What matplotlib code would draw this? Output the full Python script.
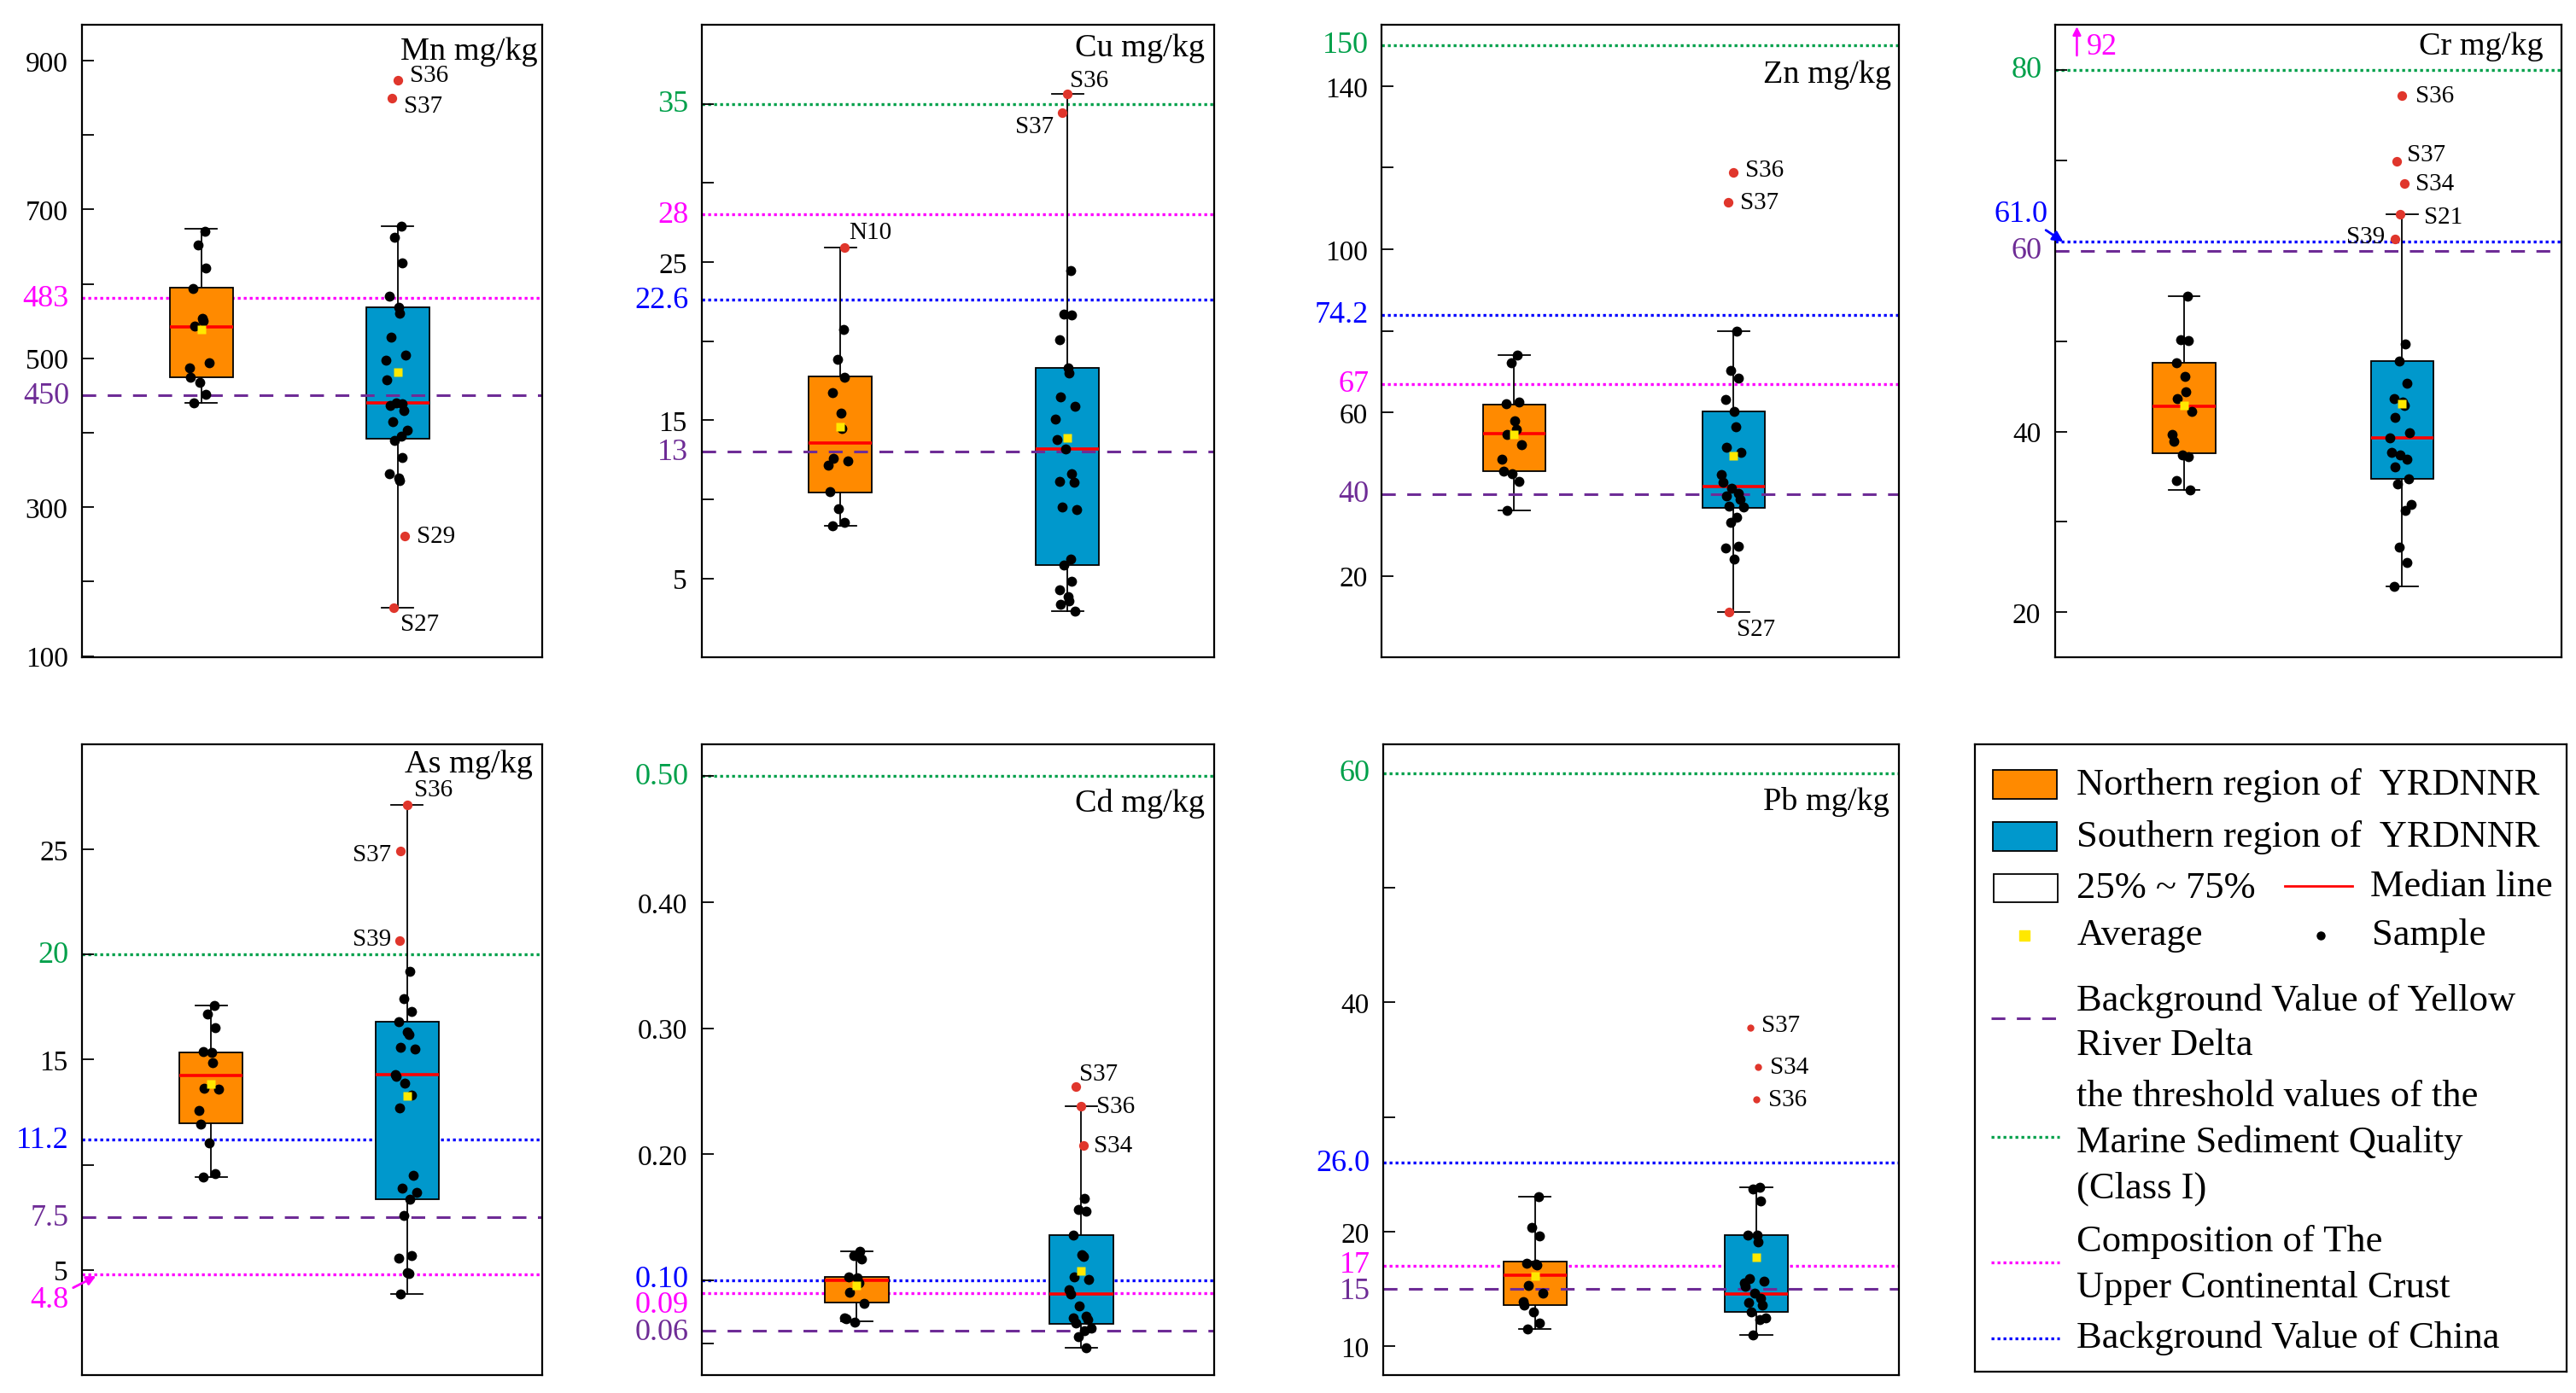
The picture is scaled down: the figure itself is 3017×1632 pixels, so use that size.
import matplotlib
matplotlib.use('Agg')
import matplotlib.pyplot as plt
import matplotlib.transforms as mtransforms
import numpy as np
from matplotlib.patches import Rectangle

plt.rcParams['font.family'] = ['Liberation Serif', 'DejaVu Serif']

ORANGE = '#FF8A00'
SBLUE = '#0098CC'
RED_PT = '#E0362C'
MEAN_C = '#FFE800'

# reference line kinds: yrd = Yellow River Delta background, msq = marine sediment class I,
# ucc = upper continental crust, chn = background value of China
REF_STYLE = {
    'yrd': dict(color='#6E2C96', ls=(0, (5.3, 4.4)), lw=2.2, z=2.5),
    'msq': dict(color='#00A04A', ls=(0, (1, 1.1)), lw=2.4, z=1),
    'ucc': dict(color='#FF00FF', ls=(0, (1, 1.1)), lw=2.4, z=1),
    'chn': dict(color='#0000FF', ls=(0, (1, 1.1)), lw=2.4, z=1),
}

# ---------------- data (mg/kg) ----------------
# box stats: whisker low, Q1, median, Q3, whisker high, mean
mn_box_n = [440, 475, 542, 595, 674, 539]
mn_box_s = [165, 392, 440, 569, 677, 481]
mn_pts_n = [671, 652, 621, 594, 553, 550, 543, 494, 487, 475, 468, 452, 440]
mn_pts_s = [677, 662, 628, 583, 568, 561, 528, 504, 497, 471, 440, 439, 437, 430,
            415, 403, 395, 390, 367, 345, 339, 336]
mn_marked = [('S36', 's', 874), ('S37', 's', 849), ('S29', 's', 261), ('S27', 's', 165)]
# the crust line is printed at ~581 on the axis although it is labelled 483
mn_refs = [('yrd', 450, '450'), ('ucc', 581, '483')]
mn_ticks = [100, 200, 300, 400, 500, 600, 700, 800, 900]
mn_labels = [100, 300, 500, 700, 900]

cu_box_n = [8.3, 10.45, 13.56, 17.77, 25.9, 14.57]
cu_box_s = [2.94, 5.85, 13.2, 18.29, 35.65, 13.89]
cu_pts_n = [20.76, 18.84, 17.74, 16.72, 15.45, 14.46, 12.57, 12.43, 12.15, 10.5, 9.4, 8.52, 8.3]
cu_pts_s = [24.48, 21.73, 21.64, 20.08, 18.29, 18.01, 16.45, 15.87, 15.07, 13.75, 13.2, 11.6,
            11.14, 11.06, 9.49, 9.35, 6.24, 5.83, 4.81, 4.26, 3.84, 3.57, 3.35, 2.94]
cu_marked = [('S36', 's', 35.65), ('S37', 's', 34.46), ('N10', 'n', 25.9)]
cu_refs = [('msq', 35, '35'), ('ucc', 28, '28'), ('chn', 22.6, '22.6'), ('yrd', 13, '13')]
cu_ticks = [5, 10, 15, 20, 25, 30, 35]
cu_labels = [5, 15, 25]

zn_box_n = [36.0, 45.6, 54.9, 62.0, 74.0, 54.7]
zn_box_s = [11.06, 36.6, 41.9, 60.3, 79.9, 49.4]
zn_pts_n = [74.0, 72.2, 62.6, 62.1, 57.9, 55.96, 54.7, 52.2, 48.6, 45.6, 45.1, 43.2, 36.0]
zn_pts_s = [79.9, 70.4, 68.5, 63.2, 60.3, 56.6, 51.5, 50.2, 44.9, 43.0, 41.4, 40.3, 39.5,
            38.7, 37.1, 36.9, 34.3, 33.1, 27.3, 26.8, 24.0]
zn_marked = [('S36', 's', 118.8), ('S37', 's', 111.6), ('S27', 's', 11.06)]
# the China line sits at ~84 on the printed axis although it is labelled 74.2
zn_refs = [('msq', 150, '150'), ('chn', 84, '74.2'), ('ucc', 67, '67'), ('yrd', 40, '40')]
zn_ticks = [20, 40, 60, 80, 100, 120, 140]
zn_labels = [20, 60, 100, 140]

cr_box_n = [33.5, 37.6, 42.8, 47.6, 55.0, 42.9]
cr_box_s = [22.9, 34.8, 39.3, 47.8, 64.0, 43.1]
cr_pts_n = [55.0, 50.2, 50.1, 47.6, 46.1, 44.4, 43.6, 42.2, 39.7, 38.9, 37.4, 37.2, 34.6, 33.5]
cr_pts_s = [49.7, 47.8, 45.3, 43.6, 43.3, 42.9, 41.6, 39.9, 39.3, 37.7, 37.4, 36.9, 36.1,
            34.8, 34.2, 31.9, 31.3, 27.2, 25.5, 22.9]
cr_marked = [('S36', 's', 77.2), ('S37', 's', 69.9), ('S34', 's', 67.4), ('S21', 's', 64.0),
             ('S39', 's', 61.3)]
cr_refs = [('msq', 80, '80'), ('chn', 61.0, ''), ('yrd', 60, '60')]
cr_ticks = [20, 30, 40, 50, 60, 70, 80]
cr_labels = [20, 40]
cr_ucc = 92

as_box_n = [9.41, 11.97, 14.25, 15.35, 17.58, 13.84]
as_box_s = [3.83, 8.34, 14.27, 16.81, 27.12, 13.26]
as_pts_n = [17.58, 17.17, 16.52, 15.37, 15.33, 14.84, 13.65, 13.61, 12.6, 11.95, 11.03, 9.57, 9.41]
as_pts_s = [19.2, 17.9, 17.3, 16.8, 16.3, 16.2, 15.6, 15.5, 14.3, 14.2, 13.9, 13.3, 12.7,
            9.5, 8.9, 8.7, 8.34, 7.6, 5.66, 5.54, 4.86, 4.81, 3.83]
as_marked = [('S36', 's', 27.12), ('S37', 's', 24.92), ('S39', 's', 20.67)]
as_refs = [('msq', 20, '20'), ('chn', 11.2, '11.2'), ('yrd', 7.5, '7.5'), ('ucc', 4.8, '')]
as_ticks = [5, 10, 15, 20, 25]
as_labels = [5, 15, 25]

cd_box_n = [0.0675, 0.0822, 0.100, 0.1027, 0.1232, 0.0959]
cd_box_s = [0.0464, 0.0652, 0.0891, 0.1359, 0.2383, 0.1072]
cd_pts_n = [0.1232, 0.1198, 0.117, 0.1027, 0.1017, 0.098, 0.0908, 0.0816, 0.0703, 0.0693, 0.0669]
cd_pts_s = [0.165, 0.156, 0.155, 0.1359, 0.1205, 0.119, 0.1027, 0.101, 0.0925, 0.0891, 0.0795,
            0.0713, 0.0703, 0.0686, 0.0659, 0.0618, 0.060, 0.0556, 0.0464]
cd_marked = [('S37', 's', 0.2537), ('S36', 's', 0.2383), ('S34', 's', 0.2068)]
cd_refs = [('msq', 0.50, '0.50'), ('chn', 0.10, '0.10'), ('ucc', 0.09, '0.09'), ('yrd', 0.06, '0.06')]
cd_ticks = [0.05, 0.10, 0.20, 0.30, 0.40, 0.50]
cd_labels = [0.20, 0.30, 0.40]

pb_box_n = [11.54, 13.6, 16.16, 17.36, 23.07, 16.12]
pb_box_s = [10.98, 13.0, 14.55, 19.73, 23.86, 17.74]
pb_pts_n = [23.07, 20.36, 19.61, 17.25, 17.17, 17.1, 15.3, 14.66, 13.87, 13.6, 12.97, 12.03, 11.54]
pb_pts_s = [23.86, 23.75, 22.7, 19.73, 19.7, 19.1, 15.9, 15.7, 15.5, 15.2, 14.6, 14.2, 13.8,
            13.6, 13.0, 12.5, 12.3, 11.0]
pb_marked = [('S37', 's', 37.82), ('S34', 's', 34.33), ('S36', 's', 31.51)]
pb_refs = [('msq', 60, '60'), ('chn', 26.0, '26.0'), ('ucc', 17, '17'), ('yrd', 15, '15')]
pb_ticks = [10, 20, 30, 40, 50]
pb_labels = [10, 20, 40]

# ---------------- layout ----------------
JITTER = [0.05, -0.05, 0.07, -0.13, 0.01, 0.03, -0.11, 0.12, -0.19, -0.17, -0.03, 0.07, -0.12,
          0.10, -0.08, 0.15]
TOP_ROW = [0.5277, 0.4539]
BOT_ROW = [0.0130, 0.4523]

panels = [
    dict(title='Mn mg/kg', rect=[0.0319, TOP_ROW[0], 0.1786, TOP_ROW[1]], ylim=(98, 948),
         box=(mn_box_n, mn_box_s), pts=(mn_pts_n, mn_pts_s), marked=mn_marked, refs=mn_refs,
         ticks=mn_ticks, labels=mn_labels, fmt='{:.0f}', pos=(0.259, 0.686), w=0.138,
         title_y=0.958, title_x=0.989,
         marks=[(0, 10, 4, 'left'), (-0.09, 10, -6, 'left'), (0.11, 10, 0, 'left'),
                (-0.07, 6, -14, 'left')]),
    dict(title='Cu mg/kg', rect=[0.2723, TOP_ROW[0], 0.1990, TOP_ROW[1]], ylim=(0, 40),
         box=(cu_box_n, cu_box_s), pts=(cu_pts_n, cu_pts_s), marked=cu_marked, refs=cu_refs,
         ticks=cu_ticks, labels=cu_labels, fmt='{:.0f}', pos=(0.271, 0.714), w=0.124,
         title_y=0.964, title_x=0.982,
         marks=[(0, 2, 11, 'left'), (-0.08, -7, -12, 'right'), (0.06, 4, 13, 'left')]),
    dict(title='Zn mg/kg', rect=[0.5364, TOP_ROW[0], 0.2009, TOP_ROW[1]], ylim=(0, 155),
         box=(zn_box_n, zn_box_s), pts=(zn_pts_n, zn_pts_s), marked=zn_marked, refs=zn_refs,
         ticks=zn_ticks, labels=zn_labels, fmt='{:.0f}', pos=(0.256, 0.680), w=0.122,
         title_y=0.922, title_x=0.985,
         marks=[(0, 10, 2, 'left'), (-0.09, 10, 0, 'left'), (-0.07, 6, -14, 'left')]),
    dict(title='Cr mg/kg', rect=[0.7978, TOP_ROW[0], 0.1964, TOP_ROW[1]], ylim=(15, 85),
         box=(cr_box_n, cr_box_s), pts=(cr_pts_n, cr_pts_s), marked=cr_marked, refs=cr_refs,
         ticks=cr_ticks, labels=cr_labels, fmt='{:.0f}', pos=(0.255, 0.686), w=0.124,
         title_y=0.967, title_x=0.965,
         marks=[(0, 11, 0, 'left'), (-0.09, 9, 6, 'left'), (0.04, 9, 0, 'left'),
                (-0.03, 20, -2, 'left'), (-0.11, -9, 2, 'right')]),
    dict(title='As mg/kg', rect=[0.0319, BOT_ROW[0], 0.1786, BOT_ROW[1]], ylim=(0, 30),
         box=(as_box_n, as_box_s), pts=(as_pts_n, as_pts_s), marked=as_marked, refs=as_refs,
         ticks=as_ticks, labels=as_labels, fmt='{:.0f}', pos=(0.280, 0.706), w=0.137,
         title_y=0.97, title_x=0.98,
         marks=[(0, 6, 13, 'left'), (-0.10, -8, -3, 'right'), (-0.12, -7, 1, 'right')]),
    dict(title='Cd mg/kg', rect=[0.2723, BOT_ROW[0], 0.1990, BOT_ROW[1]], ylim=(0.025, 0.525),
         box=(cd_box_n, cd_box_s), pts=(cd_pts_n, cd_pts_s), marked=cd_marked, refs=cd_refs,
         ticks=cd_ticks, labels=cd_labels, fmt='{:.2f}', pos=(0.303, 0.741), w=0.124,
         title_y=0.908, title_x=0.982, ref_dy={'0.10': 1, '0.09': -10, '0.06': -1},
         marks=[(-0.09, 3, 11, 'left'), (0, 13, 0, 'left'), (0.03, 9, 0, 'left')]),
    dict(title='Pb mg/kg', rect=[0.5370, BOT_ROW[0], 0.2003, BOT_ROW[1]], ylim=(7.5, 62.5),
         box=(pb_box_n, pb_box_s), pts=(pb_pts_n, pb_pts_s), marked=pb_marked, refs=pb_refs,
         ticks=pb_ticks, labels=pb_labels, fmt='{:.0f}', pos=(0.294, 0.723), w=0.123,
         title_y=0.91, title_x=0.98, small_red=True, ref_dy={'17': 1, '15': -2},
         marks=[(-0.09, 9, 2, 'left'), (0.03, 10, 0, 'left'), (0, 10, 0, 'left')]),
]


def box_stats(b):
    return dict(whislo=b[0], q1=b[1], med=b[2], q3=b[3], whishi=b[4], mean=b[5], fliers=[])


def draw_panel(fig, p):
    ax = fig.add_axes(p['rect'])
    ax.set_xlim(0, 1)
    ax.set_ylim(*p['ylim'])
    w = p['w']

    # reference lines
    trans = mtransforms.blended_transform_factory(ax.transAxes, ax.transData)
    ref_dy = p.get('ref_dy', {})
    for kind, val, txt in p['refs']:
        st = REF_STYLE[kind]
        ax.axhline(val, color=st['color'], ls=st['ls'], lw=st['lw'], zorder=st['z'])
        if txt:
            ax.annotate(txt, xy=(0, val), xycoords=trans, xytext=(-11, ref_dy.get(txt, 0)),
                        textcoords='offset points', ha='right', va='center',
                        fontsize=26, color=st['color'], annotation_clip=False)

    # boxes
    stats = [box_stats(p['box'][0]), box_stats(p['box'][1])]
    art = ax.bxp(stats, positions=list(p['pos']), widths=w, capwidths=w * 0.5,
                 patch_artist=True, showmeans=True, showfliers=False,
                 boxprops=dict(edgecolor='black', linewidth=1.3),
                 whiskerprops=dict(color='black', linewidth=1.3),
                 capprops=dict(color='black', linewidth=1.3),
                 medianprops=dict(color='red', linewidth=2.6),
                 meanprops=dict(marker='s', markerfacecolor=MEAN_C, markeredgecolor='none',
                                markersize=7))
    for patch, col in zip(art['boxes'], [ORANGE, SBLUE]):
        patch.set_facecolor(col)
        patch.set_zorder(2)
    for ln in art['whiskers'] + art['caps']:
        ln.set_zorder(1.8)
    for ln in art['medians']:
        ln.set_zorder(3)
    for ln in art['means']:
        ln.set_zorder(5)

    # samples
    for i, vals in enumerate(p['pts']):
        xs = [p['pos'][i] + JITTER[k % len(JITTER)] * w for k in range(len(vals))]
        ax.scatter(xs, vals, s=72, color='black', zorder=4, linewidths=0)

    # marked samples
    rs = 36 if p.get('small_red') else 66
    for (name, grp, val), (xo, dx, dy, ha) in zip(p['marked'], p['marks']):
        x = p['pos'][0 if grp == 'n' else 1] + xo * w
        ax.scatter([x], [val], s=rs, color=RED_PT, zorder=4.5, linewidths=0)
        ax.annotate(name, xy=(x, val), xytext=(dx, dy), textcoords='offset points',
                    ha=ha, va='center', fontsize=21)

    ax.text(p['title_x'], p['title_y'], p['title'], transform=ax.transAxes, ha='right',
            va='center', fontsize=27.5)

    ax.set_yticks(p['ticks'])
    ax.set_yticklabels([p['fmt'].format(t) if np.any(np.isclose(t, p['labels'])) else ''
                        for t in p['ticks']])
    ax.tick_params(axis='y', direction='in', length=10, width=1.3, labelsize=24, pad=12)
    ax.tick_params(axis='x', bottom=False, labelbottom=False)
    for sp in ax.spines.values():
        sp.set_linewidth(1.6)
    return ax


fig = plt.figure(figsize=(30.17, 16.33), dpi=100)
axes = [draw_panel(fig, p) for p in panels]

# Cr extras: 61.0 label with arrow and the off-scale crust value
ax_cr = axes[3]
tr = mtransforms.blended_transform_factory(ax_cr.transAxes, ax_cr.transData)
ax_cr.annotate('61.0', xy=(0.016, 61.0), xycoords=tr, xytext=(-0.014, 64.1), textcoords=tr,
               ha='right', va='center', fontsize=26, color='#0000FF', annotation_clip=False,
               arrowprops=dict(arrowstyle='-|>', color='#0000FF', lw=2, mutation_scale=18,
                               shrinkA=0, shrinkB=0))
ax_cr.annotate('', xy=(0.043, 84.8), xycoords=tr, xytext=(0.043, 81.6), textcoords=tr,
               arrowprops=dict(arrowstyle='-|>', color='#FF00FF', lw=1.8, mutation_scale=14,
                               shrinkA=0, shrinkB=0))
ax_cr.text(0.062, 82.6, str(cr_ucc), transform=tr, ha='left', va='center', fontsize=26,
           color='#FF00FF')

# As extra: 4.8 label with arrow
ax_as = axes[4]
tr = mtransforms.blended_transform_factory(ax_as.transAxes, ax_as.transData)
ax_as.annotate('4.8', xy=(0.03, 4.7), xycoords=tr, xytext=(-23, -20),
               textcoords='offset points', ha='right', va='center', fontsize=26,
               color='#FF00FF', annotation_clip=False,
               arrowprops=dict(arrowstyle='-|>', color='#FF00FF', lw=2, mutation_scale=16,
                               shrinkA=2, shrinkB=0))

# ---------------- legend panel ----------------
lg = fig.add_axes([0.7666, 0.0153, 0.2296, 0.4500])
lg.set_xlim(0, 1)
lg.set_ylim(0, 1)
lg.set_xticks([])
lg.set_yticks([])
for sp in lg.spines.values():
    sp.set_linewidth(1.6)

LFS = 32
TX = 0.1726
lg.add_patch(Rectangle((0.0305, 0.913), 0.108, 0.046, facecolor=ORANGE, edgecolor='black', lw=1.3))
lg.add_patch(Rectangle((0.0305, 0.830), 0.108, 0.046, facecolor=SBLUE, edgecolor='black', lw=1.3))
lg.add_patch(Rectangle((0.0320, 0.748), 0.108, 0.046, facecolor='white', edgecolor='black', lw=1.3))
lg.text(TX, 0.936, 'Northern region of  YRDNNR', va='center', fontsize=LFS)
lg.text(TX, 0.853, 'Southern region of  YRDNNR', va='center', fontsize=LFS)
lg.text(TX, 0.771, '25% ~ 75%', va='center', fontsize=LFS)
lg.plot([0.524, 0.638], [0.7745, 0.7745], color='red', lw=2)
lg.text(0.668, 0.7745, 'Median line', va='center', fontsize=LFS)
lg.plot([0.0838], [0.695], marker='s', color=MEAN_C, markersize=8, ls='none')
lg.text(TX, 0.697, 'Average', va='center', fontsize=LFS)
lg.plot([0.5845], [0.695], marker='o', color='black', markersize=6.5, ls='none')
lg.text(0.671, 0.697, 'Sample', va='center', fontsize=LFS)

for kind, ly in [('yrd', 0.5634), ('msq', 0.3747), ('ucc', 0.1737), ('chn', 0.0531)]:
    st = REF_STYLE[kind]
    lg.plot([0.028, 0.143], [ly, ly], color=st['color'], ls=st['ls'], lw=st['lw'])
lg.text(TX, 0.5926, 'Background Value of Yellow', va='center', fontsize=LFS)
lg.text(TX, 0.521, 'River Delta', va='center', fontsize=LFS)
lg.text(TX, 0.440, 'the threshold values of the', va='center', fontsize=LFS)
lg.text(TX, 0.3665, 'Marine Sediment Quality', va='center', fontsize=LFS)
lg.text(TX, 0.2929, '(Class I)', va='center', fontsize=LFS)
lg.text(TX, 0.2078, 'Composition of The', va='center', fontsize=LFS)
lg.text(TX, 0.1349, 'Upper Continental Crust', va='center', fontsize=LFS)
lg.text(TX, 0.0552, 'Background Value of China', va='center', fontsize=LFS)

fig.savefig('out.png', dpi=100)
